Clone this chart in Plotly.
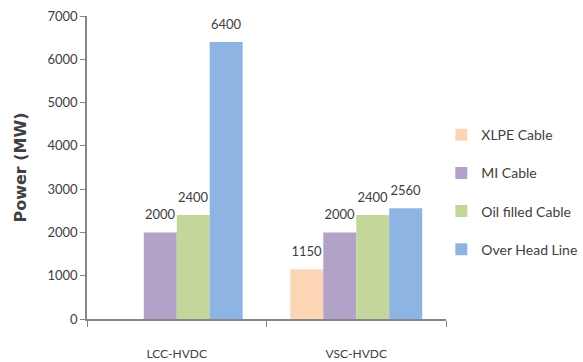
import plotly.graph_objects as go

categories = ["LCC-HVDC", "VSC-HVDC"]
series_names = ["XLPE Cable", "MI Cable", "Oil filled Cable", "Over Head Line"]
xlpe = [None, 1150]
mi = [2000, 2000]
oil = [2400, 2400]
ohl = [6400, 2560]
colors = ["#FCD5B5", "#B3A2C7", "#C3D69B", "#8EB4E3"]
y_ticks = [0, 1000, 2000, 3000, 4000, 5000, 6000, 7000]

FONT = "Lato, sans-serif"
TFONT = "DejaVu Sans, sans-serif"
TXT = "#404040"
AX = "#868686"

fig = go.Figure()
for name, vals, col in zip(series_names, [xlpe, mi, oil, ohl], colors):
    fig.add_trace(go.Bar(
        name=name, x=categories, y=vals,
        marker=dict(color=col, line=dict(width=0)),
        text=[("" if v is None else str(v)) for v in vals],
        texttemplate="<span style='font-size:13px'>%{text}</span><br> ",
        textposition="outside",
        constraintext="none",
        textfont=dict(family=FONT, size=7, color=TXT),
        cliponaxis=False,
        legendgroup=name,
    ))

fig.update_layout(
    width=583, height=362,
    margin=dict(l=87, r=137, t=16, b=43, autoexpand=False),
    paper_bgcolor="white", plot_bgcolor="white",
    barmode="group", bargap=0.265, bargroupgap=0,
    font=dict(family=FONT, size=13, color=TXT),
    showlegend=True,
    legend=dict(
        xref="container", yref="container",
        x=0.757, xanchor="left", y=0.671, yanchor="top",
        font=dict(family=FONT, size=14, color=TXT),
        tracegroupgap=17, itemwidth=30,
        bgcolor="rgba(0,0,0,0)",
    ),
)
fig.update_xaxes(
    type="category", showline=True, linecolor=AX, linewidth=1.5,
    ticks="outside", tickson="boundaries", ticklen=6, tickcolor=AX, tickwidth=1,
    showgrid=False, ticklabelstandoff=23, automargin=False,
    tickfont=dict(family=FONT, size=12, color=TXT),
)
fig.update_yaxes(
    range=[0, 7000], tickvals=y_ticks, showline=True, linecolor=AX, linewidth=1.5,
    ticks="outside", ticklen=5, tickcolor=AX, showgrid=False, zeroline=False,
    automargin=False,
    tickfont=dict(family=FONT, size=13, color=TXT),
    title=dict(text="<b>Power (MW)</b>", font=dict(family=TFONT, size=16, color=TXT), standoff=17),
)

fig.write_html("out.html")
